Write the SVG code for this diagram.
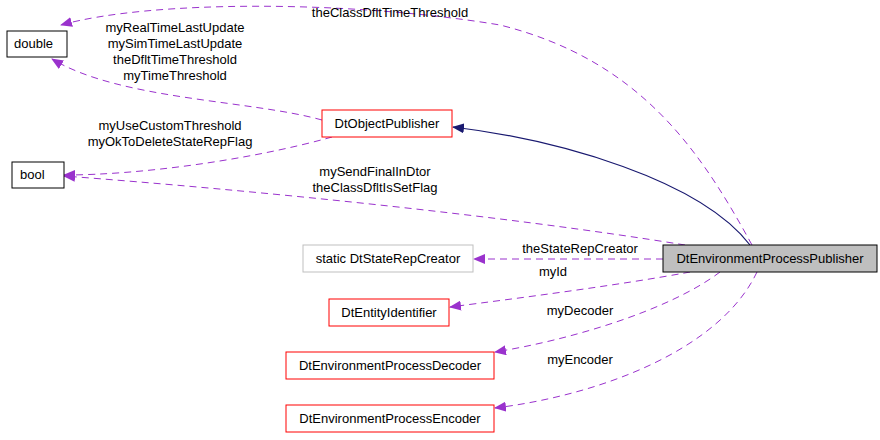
<svg xmlns="http://www.w3.org/2000/svg" width="880" height="440" viewBox="0 0 880 440">
<style>
text{font-family:"Liberation Sans",Arial,sans-serif;font-size:13px;fill:#000}
.n{fill:#fff;stroke-width:1}
.red{stroke:#ff0000}.blk{stroke:#000}.gry{stroke:#bfbfbf}
.d{fill:none;stroke:#9a32cd;stroke-dasharray:7,5;stroke-width:1}
.s{fill:none;stroke:#191970;stroke-width:1.2}
</style>
<defs>
<marker id="ap" markerWidth="12" markerHeight="10" refX="11" refY="5" orient="auto" markerUnits="userSpaceOnUse"><path d="M0,0 L12,5 L0,10 Z" fill="#9a32cd"/></marker>
<marker id="an" markerWidth="12" markerHeight="10" refX="11" refY="5" orient="auto" markerUnits="userSpaceOnUse"><path d="M0,0 L12,5 L0,10 Z" fill="#191970"/></marker>
</defs>
<rect width="880" height="440" fill="#fff"/>
<g id="connectors">
<path class="s" d="M750,245 C700,180 560,140 453,127" marker-end="url(#an)"/>
<path class="d" d="M752,245 C700,150 640,60 500,25 C350,0 150,0 61,25" marker-end="url(#ap)"/>
<text x="390" y="17" text-anchor="middle">theClassDfltTimeThreshold</text>
<path class="d" d="M322,120 C250,100 120,100 52,59" marker-end="url(#ap)"/>
<text x="175" y="32" text-anchor="middle">myRealTimeLastUpdate</text>
<text x="175" y="48" text-anchor="middle">mySimTimeLastUpdate</text>
<text x="175" y="64" text-anchor="middle">theDfltTimeThreshold</text>
<text x="175" y="80" text-anchor="middle">myTimeThreshold</text>
<path class="d" d="M332,137 C250,160 140,175 64,175" marker-end="url(#ap)"/>
<text x="170" y="130" text-anchor="middle">myUseCustomThreshold</text>
<text x="170" y="146" text-anchor="middle">myOkToDeleteStateRepFlag</text>
<path class="d" d="M685,245 C500,215 250,190 64,176" marker-end="url(#ap)"/>
<text x="375" y="176" text-anchor="middle">mySendFinalInDtor</text>
<text x="375" y="192" text-anchor="middle">theClassDfltIsSetFlag</text>
<path class="d" d="M663,259 L474,259" marker-end="url(#ap)"/>
<text x="580" y="253" text-anchor="middle">theStateRepCreator</text>
<path class="d" d="M690,272 C620,285 520,298 450,307" marker-end="url(#ap)"/>
<text x="553" y="276" text-anchor="middle">myId</text>
<path class="d" d="M720,272 C670,310 570,340 495,352" marker-end="url(#ap)"/>
<text x="580" y="315" text-anchor="middle">myDecoder</text>
<path class="d" d="M757,272 C720,350 600,395 495,408" marker-end="url(#ap)"/>
<text x="580" y="364" text-anchor="middle">myEncoder</text>
</g>
<g id="double"><rect class="n blk" x="7" y="31" width="60" height="26"/><text x="14" y="48">double</text></g>
<g id="bool"><rect class="n blk" x="12" y="162" width="52" height="26"/><text x="20" y="179">bool</text></g>
<g id="DtObjectPublisher"><rect class="n red" x="322" y="110" width="130" height="27"/><text x="387" y="128" text-anchor="middle">DtObjectPublisher</text></g>
<g id="DtStateRepCreator"><rect class="n gry" x="303" y="245" width="170" height="27"/><text x="388" y="263" text-anchor="middle">static DtStateRepCreator</text></g>
<g id="DtEntityIdentifier"><rect class="n red" x="329" y="299" width="120" height="27"/><text x="389" y="317" text-anchor="middle">DtEntityIdentifier</text></g>
<g id="DtEnvironmentProcessDecoder"><rect class="n red" x="286" y="352" width="208" height="27"/><text x="390" y="370" text-anchor="middle">DtEnvironmentProcessDecoder</text></g>
<g id="DtEnvironmentProcessEncoder"><rect class="n red" x="286" y="405" width="208" height="27"/><text x="390" y="423" text-anchor="middle">DtEnvironmentProcessEncoder</text></g>
<g id="DtEnvironmentProcessPublisher"><rect x="663" y="245" width="214" height="27" fill="#bfbfbf" stroke="#000"/><text x="770" y="263" text-anchor="middle">DtEnvironmentProcessPublisher</text></g>
</svg>
